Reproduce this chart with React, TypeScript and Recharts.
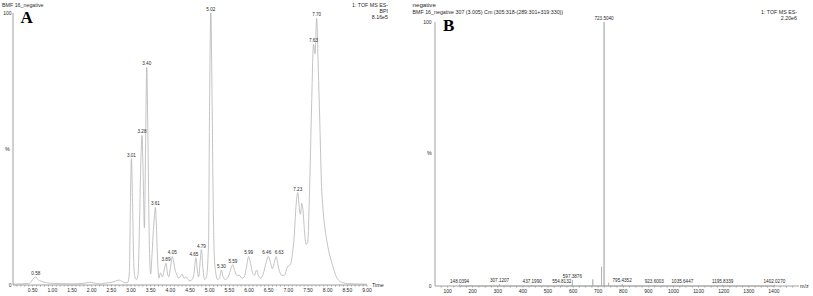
import { LineChart, Line, XAxis, YAxis, ReferenceDot } from 'recharts'

// panel A: base peak chromatogram (time in min, % of 8.16e5)
const timeMin = [
  0.0, 0.1, 0.2, 0.3, 0.4, 0.45, 0.5, 0.55, 0.58, 0.62, 0.68, 0.75, 0.85, 1.0, 1.2, 1.5, 1.8, 1.95, 2.05, 2.2,
  2.35, 2.5, 2.6, 2.7, 2.78, 2.85, 2.92, 2.96, 2.98, 3.01, 3.04, 3.07, 3.1, 3.14, 3.18, 3.22, 3.25, 3.28, 3.31, 3.34,
  3.37, 3.4, 3.43, 3.46, 3.5, 3.53, 3.56, 3.6, 3.62, 3.65, 3.68, 3.71, 3.75, 3.8, 3.85, 3.89, 3.93, 3.96, 4.0, 4.05,
  4.08, 4.12, 4.16, 4.2, 4.25, 4.3, 4.35, 4.4, 4.45, 4.5, 4.55, 4.6, 4.65, 4.69, 4.72, 4.76, 4.79, 4.83, 4.87, 4.92,
  4.97, 5.0, 5.03, 5.06, 5.09, 5.12, 5.16, 5.2, 5.25, 5.3, 5.34, 5.4, 5.45, 5.5, 5.55, 5.59, 5.64, 5.7, 5.76, 5.82,
  5.88, 5.94, 5.99, 6.04, 6.09, 6.14, 6.19, 6.24, 6.3, 6.36, 6.44, 6.49, 6.55, 6.59, 6.64, 6.69, 6.74, 6.79, 6.84, 6.88,
  6.92, 6.96, 7.0, 7.05, 7.1, 7.15, 7.19, 7.24, 7.28, 7.31, 7.34, 7.37, 7.41, 7.45, 7.49, 7.54, 7.59, 7.64, 7.68, 7.72,
  7.76, 7.8, 7.84, 7.88, 7.92, 7.97, 8.02, 8.07, 8.12, 8.17, 8.22, 8.3, 8.4, 8.5, 8.7, 9.0,
]
const bpiPct = [
  0.3, 0.4, 0.4, 0.5, 0.6, 1.0, 2.0, 2.8, 3.0, 2.2, 1.6, 1.2, 0.8, 0.6, 0.5, 0.4, 0.6, 1.0, 0.8, 0.4,
  0.7, 1.0, 1.4, 1.8, 1.2, 0.8, 1.0, 5, 25, 46.5, 30, 8, 3, 2, 4, 25, 45, 55, 40, 21,
  50, 80, 55, 20, 4, 10, 18, 26, 28.5, 20, 8, 2.5, 4.5, 3, 6, 8, 4, 3, 6, 10.5,
  9, 5.5, 4, 2.5, 3, 4, 2.5, 3, 2, 1.5, 2, 4, 10, 5, 3, 9, 13, 6, 2, 3,
  15, 70, 100, 70, 30, 10, 4, 2, 2.5, 5.5, 3, 2, 2.5, 4, 6.5, 7.5, 5, 3.5, 3.5, 2.5,
  3, 7, 10.5, 8, 4.5, 3.5, 5.5, 3.5, 2.5, 4, 8.5, 10.5, 8, 6, 8, 10.5, 7, 4.5, 3.5, 3.5,
  4, 6, 7, 7.5, 11, 18, 28, 34, 28, 26, 30, 28, 20, 15, 15.5, 35, 65, 88.5, 85, 98,
  80, 60, 38, 28, 22, 17, 13, 10, 7.5, 5, 3, 1.5, 0.8, 0.5, 0.4, 0.3,
]
const peakTimes = [0.58, 3.01, 3.28, 3.4, 3.62, 3.89, 4.05, 4.65, 4.79, 5.03, 5.3, 5.59, 5.99, 6.49, 6.69, 7.24, 7.64, 7.72]
const peakPct = [3.0, 46.5, 55, 80, 28.5, 8, 10.5, 10, 13, 100, 5.5, 7.5, 10.5, 10.5, 10.5, 34, 88.5, 98]
const peakText = ['0.58', '3.01', '3.28', '3.40', '3.61', '3.89', '4.05', '4.65', '4.79', '5.02', '5.30', '5.59', '5.99', '6.46', '6.63', '7.23', '7.63', '7.70']

// panel B: mass spectrum (m/z, % of 2.20e6)
const mzValues = [148.0394, 307.1207, 437.199, 554.8132, 597.3876, 678.4, 713.5, 723.504, 741.5, 795.4352, 923.6003, 1035.6447, 1195.8339, 1402.027]
const mzPct = [0.5, 0.6, 0.4, 0.4, 2.2, 2.5, 7.3, 100, 1.2, 0.6, 0.4, 0.4, 0.4, 0.4]
const mzText = ['148.0394', '307.1207', '437.1990', '554.8132', '597.3876', '', '', '723.5040', '', '795.4352', '923.6003', '1035.6447', '1195.8339', '1402.0270']

const chromData = timeMin.map((t, i) => ({ t, v: bpiPct[i] }))
const stickData = mzValues.flatMap((mz, i) => [
  { mz, v: 0 },
  { mz, v: mzPct[i] },
  { mz, v: 0 },
])

const timeTicks = Array.from({ length: 90 }, (_, i) => Math.round((i + 1) * 10) / 100)
const mzTicks = Array.from({ length: 57 }, (_, i) => 75 + i * 25)

// small sideways nudges so neighbouring peak labels don't collide
const labelNudge: Record<string, number> = { '6.46': -1.5, '6.63': 3, '4.65': -2 }

const AXIS = '#a0a0a0'
const TRACE = '#b4b4b4'
const TXT = '#2a2a2a'
const FONT = '"Liberation Sans", Arial, sans-serif'

const small = (extra: React.CSSProperties): React.CSSProperties => ({
  position: 'absolute',
  fontSize: 5.3,
  lineHeight: '6px',
  color: TXT,
  whiteSpace: 'nowrap',
  ...extra,
})

const bigLetter = (left: number, top: number): React.CSSProperties => ({
  position: 'absolute',
  left,
  top,
  fontFamily: '"Liberation Serif", "Times New Roman", serif',
  fontWeight: 'bold',
  fontSize: 17,
  lineHeight: '17px',
  color: '#000',
})

export default function App() {
  return (
    <div style={{ position: 'absolute', left: 0, top: 0, width: 813, height: 296, background: '#fff', fontFamily: FONT, overflow: 'hidden' }}>
      <div style={{ position: 'absolute', left: 0, top: 0 }}>
        <LineChart width={410} height={296} data={chromData} margin={{ top: 13, right: 43, bottom: 0, left: 0 }}>
          <XAxis
            type="number"
            dataKey="t"
            domain={[0, 9]}
            ticks={timeTicks}
            interval={0}
            height={11}
            stroke={AXIS}
            tickSize={1.5}
            tickMargin={1.5}
            tick={{ fontSize: 5, fill: TXT }}
            tickFormatter={(v: number) => (Math.abs(v * 2 - Math.round(v * 2)) < 1e-6 ? v.toFixed(2) : '')}
          />
          <YAxis
            type="number"
            domain={[0, 100]}
            ticks={[0, 100]}
            width={13}
            stroke={AXIS}
            tickLine={false}
            tickSize={0}
            tickMargin={1.5}
            tick={{ fontSize: 5, fill: TXT }}
          />
          <Line type="monotone" dataKey="v" stroke={TRACE} strokeWidth={0.8} dot={false} isAnimationActive={false} />
          {peakTimes.map((t, i) => (
            <ReferenceDot
              key={peakText[i]}
              x={t}
              y={peakPct[i]}
              r={0}
              fill="none"
              stroke="none"
              label={{ value: peakText[i], position: 'top', offset: 2, fontSize: 4.6, fill: TXT, dx: labelNudge[peakText[i]] ?? 0 }}
            />
          ))}
        </LineChart>
      </div>
      <div style={{ position: 'absolute', left: 410, top: 0 }}>
        <LineChart width={403} height={296} data={stickData} margin={{ top: 22, right: 14, bottom: 0, left: 0 }}>
          <XAxis
            type="number"
            dataKey="mz"
            domain={[50, 1500]}
            ticks={mzTicks}
            interval={0}
            height={10}
            stroke={AXIS}
            tickSize={1.5}
            tickMargin={1.5}
            tick={{ fontSize: 5, fill: TXT }}
            tickFormatter={(v: number) => (v % 100 === 0 ? String(v) : '')}
          />
          <YAxis
            type="number"
            domain={[0, 100]}
            ticks={[0, 100]}
            width={25}
            stroke={AXIS}
            tickLine={false}
            tickSize={0}
            tickMargin={3.5}
            tick={{ fontSize: 5, fill: TXT }}
          />
          <Line type="linear" dataKey="v" stroke={TRACE} strokeWidth={0.9} dot={false} isAnimationActive={false} />
          {mzValues.map((mz, i) =>
            mzText[i] ? (
              <ReferenceDot
                key={mzText[i]}
                x={mz}
                y={mzPct[i]}
                r={0}
                fill="none"
                stroke="none"
                label={{ value: mzText[i], position: 'top', offset: 2, fontSize: 4.6, fill: TXT }}
              />
            ) : null,
          )}
        </LineChart>
      </div>

      <div style={small({ left: 2, top: 1.5 })}>BMF 16_negative</div>
      <div style={small({ right: 425, top: 1.5, textAlign: 'right' })}>
        1: TOF MS ES-
        <br />
        BPI
        <br />
        8.16e5
      </div>
      <div style={small({ left: 5, top: 146 })}>%</div>
      <div style={small({ left: 372, top: 282 })}>Time</div>
      <div style={bigLetter(20.5, 8.7)}>A</div>

      <div style={small({ left: 412.5, top: 1, fontSize: 6.2, lineHeight: '7px' })}>negative</div>
      <div style={small({ left: 412.5, top: 9.3 })}>BMF 16_negative 307 (3.005) Cm (305:318-(289:301+319:330))</div>
      <div style={small({ right: 16, top: 9.3, textAlign: 'right' })}>
        1: TOF MS ES-
        <br />
        2.20e6
      </div>
      <div style={small({ left: 427, top: 150 })}>%</div>
      <div style={small({ left: 800, top: 283 })}>m/z</div>
      <div style={bigLetter(443, 16.5)}>B</div>
    </div>
  )
}
